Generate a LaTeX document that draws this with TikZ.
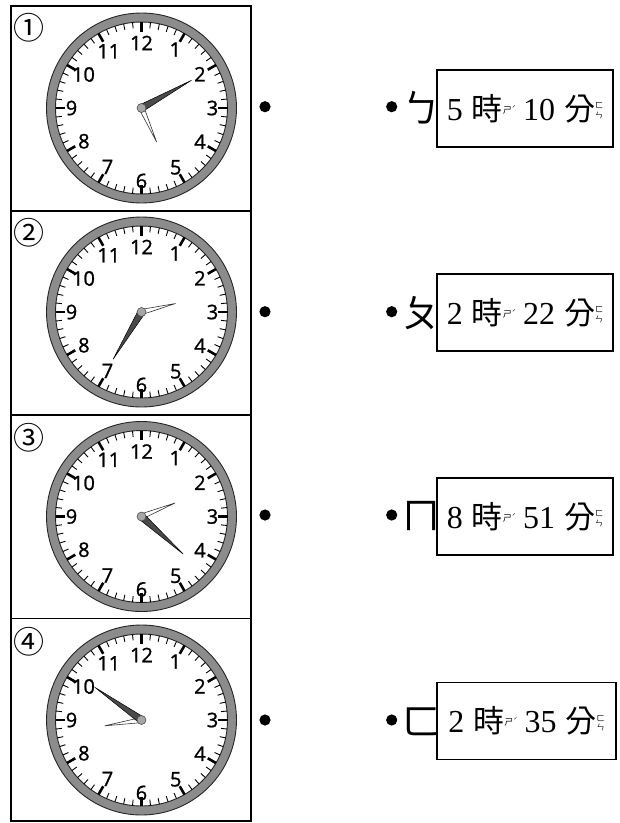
\documentclass[tikz,border=0pt]{standalone}
\usepackage{fontspec}
\setmainfont{Liberation Serif}
\newfontfamily\cjk{Noto Sans CJK TC}
\newfontfamily\clkfont{Open Sans}[FakeBold=1.2]
\definecolor{ringgray}{HTML}{8C8C8C}
\definecolor{handdark}{HTML}{4A4A4A}
\definecolor{capgray}{HTML}{A6A6A6}
\tikzset{
 frameline/.style={line width=1.6pt},
 mtick/.style={line width=0.9pt},
 htick/.style={line width=2.6pt},
 clknum/.style={font=\clkfont\fontsize{20}{20}\selectfont, inner sep=0pt},
 minhand/.style={fill=handdark, draw=black, line width=0.5pt, line join=round},
 hrhand/.style={fill=white, draw=black!80, line width=0.6pt, line join=round},
 capdot/.style={fill=capgray, draw=black!70, line width=0.6pt},
 circnum/.style={font=\cjk\fontsize{31}{31}\selectfont, inner sep=0pt},
 bdot/.style={fill=black},
 bpmf/.style={font=\cjk\fontsize{38}{38}\selectfont, inner sep=0pt},
 ansbox/.style={draw, line width=1.5pt, minimum width=176pt, minimum height=77pt, inner sep=0pt, font=\fontsize{32}{34}\selectfont},
}
\newcommand\hand[4]{%
  \filldraw[#4] ({#1}:#3) -- ({#1-90}:#2) -- ({#1-180}:#3) -- ({#1+90}:#3*0.6) -- cycle;}
\newcommand\drawclock[6]{%
\begin{scope}[shift={(141.5,#1)}]
 \fill[ringgray,even odd rule] (0,0) circle[radius=95] (0,0) circle[radius=86];
 \draw[line width=0.9pt, black!85] (0,0) circle[radius=95];
 \draw[line width=0.9pt, black!85] (0,0) circle[radius=86];
 \foreach \k in {0,...,59} \draw[mtick] (\k*6:86) -- (\k*6:80);
 \foreach \k in {0,30,...,330} \draw[htick] (\k:86) -- (\k:76.5);
 \foreach \n/\r in {1/67.5,2/67.5,3/71,4/67.5,5/68.5,6/73,7/68,8/66.5,9/70,10/67,11/65.5,12/65}
   \node[clknum] (#6-\n) at ({\n*30-90}:\r) {\n};
 \hand{#4}{#5}{2.6}{hrhand}
 \hand{#2}{#3}{3.6}{minhand}
 \filldraw[capdot] (0,0) circle[radius=4.5];
\end{scope}}
\newcommand\zyshi{\raisebox{7pt}{\cjk\fontsize{9}{9}\selectfont ㄕ}\raisebox{9pt}{\cjk\fontsize{7}{7}\selectfont ˊ}}
\newcommand\zyfen{\raisebox{2pt}{\cjk\fontsize{8}{8}\selectfont\shortstack{ㄈ\\ㄣ}}}
\newcommand\anstext[2]{#1\hspace{9pt}{\cjk\fontsize{31}{34}\selectfont 時}\zyshi\hspace{7pt}#2\hspace{9pt}{\cjk\fontsize{31}{34}\selectfont 分}\zyfen}
\begin{document}
\begin{tikzpicture}[x=1pt,y=-1pt]
\useasboundingbox (0,0) rectangle (620,823);
% frame
\draw[frameline] (11,6) rectangle (250.7,821);
\draw[frameline] (11,211) -- (250.7,211);
\draw[frameline] (11,415) -- (250.7,415);
\draw[frameline] (11,618.5) -- (250.7,618.5);
% clocks
\drawclock{108}{61}{57}{156}{37}{ca}
\drawclock{312}{211}{55}{76}{35}{cb}
\drawclock{516.5}{132}{56}{68}{36}{cc}
\drawclock{720}{305}{57}{261}{37}{cd}
% circled numbers
\node[circnum] (n1) at (29,27.5) {①};
\node[circnum] (n2) at (29,232.5) {②};
\node[circnum] (n3) at (29,437.5) {③};
\node[circnum] (n4) at (29,642) {④};
% bullet points
\coordinate (l1) at (265,106.7);
\coordinate (r1) at (391.7,106.7);
\coordinate (l2) at (265,311.7);
\coordinate (r2) at (391.7,311.7);
\coordinate (l3) at (265,515);
\coordinate (r3) at (391.7,515);
\coordinate (l4) at (265,720);
\coordinate (r4) at (391.7,720);
\foreach \p in {l1,r1,l2,r2,l3,r3,l4,r4} \fill[bdot] (\p) circle[radius=5.6];
% row 1
\node[bpmf] (z1) at (421.5,108) {ㄅ};
\node[ansbox] (a1) at (525,108.5) {\anstext{5}{10}};
% row 2
\node[bpmf] (z2) at (421.5,313) {ㄆ};
\node[ansbox] (a2) at (525,312.4) {\anstext{2}{22}};
% row 3
\node[bpmf] (z3) at (421.5,516.5) {ㄇ};
\node[ansbox] (a3) at (525,516.7) {\anstext{8}{51}};
% row 4
\node[bpmf] (z4) at (421.5,721.5) {ㄈ};
\node[ansbox, minimum width=179pt] (a4) at (526.5,721) {\anstext{2}{35}};
\end{tikzpicture}
\end{document}
